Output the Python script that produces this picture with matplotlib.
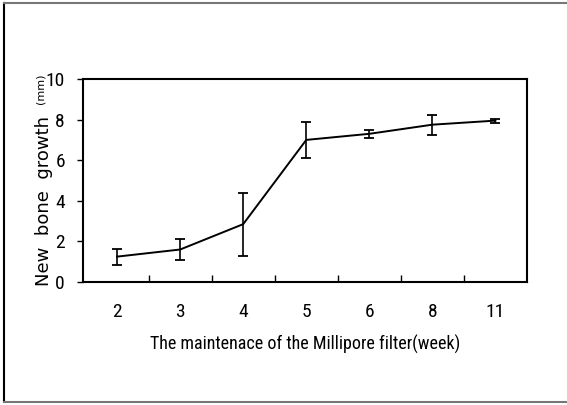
import matplotlib.pyplot as plt
from matplotlib.lines import Line2D
from matplotlib import font_manager
import numpy as np

weeks = ["2", "3", "4", "5", "6", "8", "11"]
growth = [1.25, 1.6, 2.85, 7.0, 7.3, 7.75, 7.95]
err = [0.4, 0.5, 1.55, 0.9, 0.2, 0.5, 0.1]

names = sorted({f.name for f in font_manager.fontManager.ttflist})
narrow = [n for n in ["Liberation Sans Narrow", "DejaVu Sans Condensed", "Roboto Condensed"] if n in names]
tick_font = narrow[:1] + ["Liberation Sans", "DejaVu Sans"]

W, H = 567, 405
fig = plt.figure(figsize=(W / 100, H / 100), dpi=100)

# frame around the whole picture (left, top, bottom only)
fig.add_artist(Line2D([4 / W, 4 / W], [1 - 3 / H, 1 - 402 / H], transform=fig.transFigure, color="black", lw=1.5))
fig.add_artist(Line2D([4 / W, 1], [1 - 3 / H, 1 - 3 / H], transform=fig.transFigure, color="#777777", lw=1.5))
fig.add_artist(Line2D([4 / W, 1], [1 - 402 / H, 1 - 402 / H], transform=fig.transFigure, color="#777777", lw=1.5))

ax = fig.add_axes([83 / W, 1 - 282 / H, (527 - 83) / W, (282 - 79) / H])
x = np.arange(len(weeks))
ax.errorbar(x, growth, yerr=err, color="black", lw=1.4, elinewidth=1.2, capsize=3.5, capthick=1.3)

ax.set_xlim(-0.54, 6.5)
ax.set_ylim(0, 10)
ax.set_yticks([0, 2, 4, 6, 8, 10])
ax.set_xticks(x)
ax.set_xticklabels(weeks)
ax.set_xticks(x[:-1] + 0.5, minor=True)
ax.tick_params(axis="x", which="major", length=0, pad=15)
ax.tick_params(axis="x", which="minor", direction="in", length=5, width=1)
ax.tick_params(axis="y", direction="out", length=4, width=1, pad=9)
for lab in ax.get_xticklabels() + ax.get_yticklabels():
    lab.set_family(tick_font)
    lab.set_fontsize(14 if narrow else 12)
for s in ax.spines.values():
    s.set_linewidth(1.5)

ax.set_xlabel("The maintenace of the Millipore filter(week)", fontsize=13 if narrow else 11.5,
              family=tick_font, labelpad=10)
fig.text(44 / W, 1 - 201 / H, "New  bone  growth", rotation=90, ha="center", va="center",
         fontsize=13, family="DejaVu Sans")
fig.text(40 / W, 1 - 89 / H, "(mm)", rotation=90, ha="center", va="center",
         fontsize=8, family="DejaVu Sans")

fig.savefig("out.png", dpi=100)
